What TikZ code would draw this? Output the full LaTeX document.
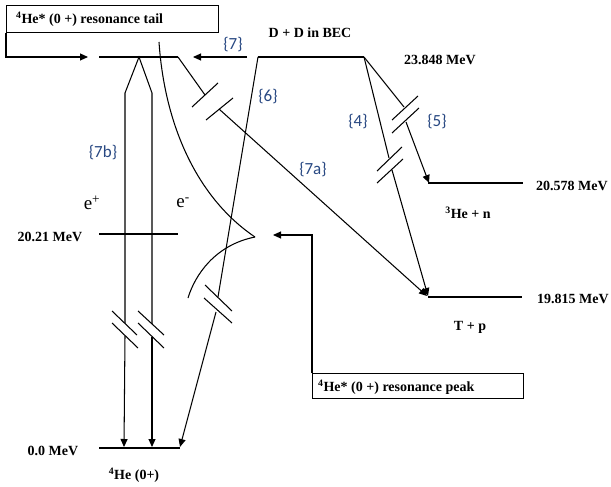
\documentclass[tikz,border=0pt]{standalone}
\usepackage{fontspec}
\setmainfont{Liberation Serif}
\newfontfamily\labfont{Carlito}
\usetikzlibrary{arrows.meta}
\definecolor{labblue}{RGB}{40,72,130}
\begin{document}
\begin{tikzpicture}[x=1pt,y=-1pt,
  ln/.style={line width=1.05pt},
  arr/.style={ln,-{Triangle[length=8pt,width=7pt]}},
  bold/.style={font=\fontsize{14}{16}\selectfont\bfseries, inner sep=0pt},
  lab/.style={font=\fontsize{17}{19}\selectfont\labfont, text=labblue, inner sep=0pt},
  elec/.style={font=\fontsize{19}{20}\selectfont, inner sep=0pt}]
\useasboundingbox (0,0) rectangle (611,487);

% ---------- level lines ----------
\coordinate (topL) at (99,57);   \coordinate (topR) at (178,57);
\coordinate (midL) at (99,234);  \coordinate (midR) at (178,234);
\coordinate (gndL) at (99,448);  \coordinate (gndR) at (180,448);
\coordinate (ddL) at (258,57);   \coordinate (ddR) at (364,57);
\coordinate (henL) at (428,183); \coordinate (henR) at (523,183);
\coordinate (tpL) at (428,297);  \coordinate (tpR) at (522,297);
\draw[ln] (topL) -- (topR);
\draw[ln] (midL) -- (midR);
\draw[ln] (gndL) -- (gndR);
\draw[ln] (ddL) -- (ddR);
\draw[ln] (henL) -- (henR);
\draw[ln] (tpL) -- (tpR);

% ---------- boxes ----------
\node[draw, ln, minimum width=212, minimum height=27, anchor=north west, inner sep=0pt] (tailbox) at (6,5) {};
\node[bold, anchor=west] (tailtxt) at (16,19) {\textsuperscript{4}He* (0 +) resonance tail};
\coordinate (tailend) at (88,57);
\draw[arr] (tailbox.south west) |- (tailend);

\node[draw, ln, minimum width=211, minimum height=25, anchor=north west, inner sep=0pt] (peakbox) at (312,373) {};
\node[bold, anchor=west] (peaktxt) at (318,387) {\textsuperscript{4}He* (0 +) resonance peak};
\coordinate (peakend) at (273,235);
\draw[arr] (peakbox.north west) |- (peakend);

% ---------- {7} arrow ----------
\coordinate (s7) at (247,57); \coordinate (e7) at (193,57);
\draw[arr] (s7) -- (e7);

% ---------- apex and e+ e- verticals ----------
\coordinate (apex) at (139,57);
\coordinate (vlt) at (125,93); \coordinate (vrt) at (152,93);
\coordinate (vlb1) at (125,323); \coordinate (vrb1) at (152,324);
\coordinate (vlb2) at (125,336); \coordinate (vrb2) at (152,337);
\coordinate (vlend) at (124,447); \coordinate (vrend) at (152,447);
\draw[ln] (vlb1) -- (vlt) -- (apex) -- (vrt) -- (vrb1);
\draw[arr] (vlb2) -- (vlend);
\draw[arr] (vrb2) -- (vrend);
\draw[ln] (112,311) -- (137,335);
\draw[ln] (112,323) -- (138,348);
\draw[ln] (138,311) -- (164,335);
\draw[ln] (138,323) -- (164,348);

% ---------- {6} ----------
\coordinate (s6b) at (218,297); \coordinate (s6c) at (216,312); \coordinate (e6) at (180,447);
\draw[ln] (ddL) -- (s6b);
\draw[arr] (s6c) -- (e6);
\draw[ln] (205,285) -- (232,311);
\draw[ln] (204,298) -- (232,323);

% ---------- {7a} ----------
\coordinate (a7b) at (205,95); \coordinate (a7c) at (219,109); \coordinate (e7a) at (427,296);
\draw[ln] (topR) -- (a7b);
\draw[arr] (a7c) -- (e7a);
\draw[ln] (192,107) -- (218,83);
\draw[ln] (206,120) -- (233,98);

% ---------- {5} ----------
\coordinate (b5) at (404,107); \coordinate (c5) at (406,122); \coordinate (e5) at (429,183);
\draw[ln] (ddR) -- (b5);
\draw[arr] (c5) -- (e5);
\draw[ln] (392,120) -- (418,96);
\draw[ln] (392,133) -- (419,108);

% ---------- {4} ----------
\coordinate (b4) at (389,158); \coordinate (c4) at (392,170); \coordinate (e4) at (428,296);
\draw[ln] (ddR) -- (b4);
\draw[arr] (c4) -- (e4);
\draw[ln] (377,171) -- (402,147);
\draw[ln] (377,183) -- (403,159);

% ---------- resonance curves ----------
\coordinate (ctop) at (159,42); \coordinate (cusp) at (255,237); \coordinate (cbot) at (188,298);
\draw[ln] (ctop) .. controls (165,130) and (200,200) .. (cusp);
\draw[ln] (cusp) .. controls (215,245) and (195,275) .. (cbot);

% ---------- texts ----------
\node[bold] (tdd) at (310,33) {D + D in BEC};
\node[bold] (t238) at (440,60) {23.848 MeV};
\node[bold] (t205) at (572,186) {20.578 MeV};
\node[bold] (t198) at (573,299) {19.815 MeV};
\node[bold] (the3) at (468,213) {\textsuperscript{3}He + n};
\node[bold] (ttp) at (470,327) {T + p};
\node[bold] (t2021) at (50,237) {20.21 MeV};
\node[bold] (t00) at (53,451) {0.0 MeV};
\node[bold] (the4) at (134,475) {\textsuperscript{4}He (0+)};
\node[elec] (tep) at (92,203) {e\textsuperscript{+}};
\node[elec] (tem) at (183,203) {e\textsuperscript{-}};
\node[lab] (l7b) at (103,153) {\{7b\}};
\node[lab] (l7) at (233,45) {\{7\}};
\node[lab] (l6) at (268,97) {\{6\}};
\node[lab] (l7a) at (313,170) {\{7a\}};
\node[lab] (l4) at (358,122) {\{4\}};
\node[lab] (l5) at (437,122) {\{5\}};
\end{tikzpicture}
\end{document}
